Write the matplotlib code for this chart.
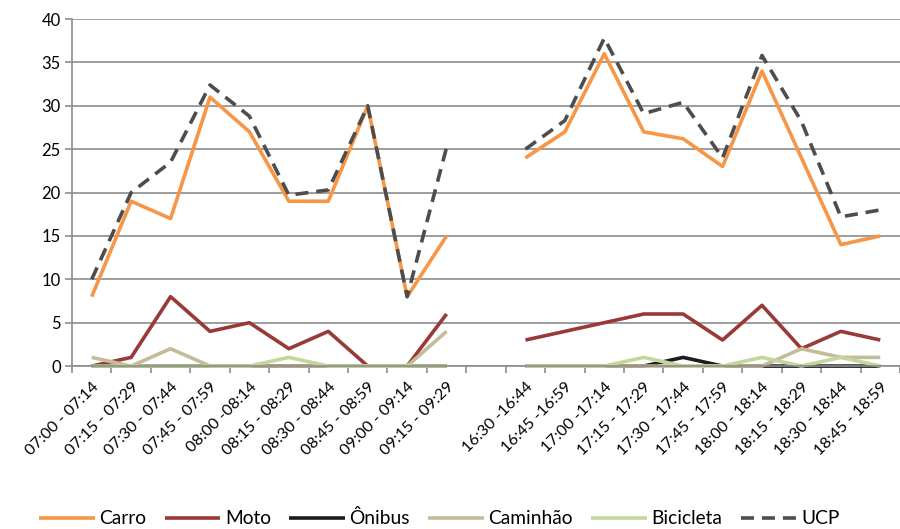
import numpy as np
import matplotlib
matplotlib.use("Agg")
import matplotlib.pyplot as plt
import matplotlib.transforms as mtransforms

plt.rcParams['font.family'] = ['Lato', 'DejaVu Sans']

# faixas horárias (manhã e tarde), com uma posição vazia entre elas
manha = ["07:00 - 07:14", "07:15 - 07:29", "07:30 - 07:44", "07:45 - 07:59", "08:00 -08:14",
         "08:15 - 08:29", "08:30 - 08:44", "08:45 - 08:59", "09:00 - 09:14", "09:15 - 09:29"]
tarde = ["16:30 -16:44", "16:45 -16:59", "17:00 -17:14", "17:15 - 17:29", "17:30 - 17:44",
         "17:45 - 17:59", "18:00 - 18:14", "18:15 - 18:29", "18:30 - 18:44", "18:45 - 18:59"]

carro_m = [8, 19, 17, 31, 27, 19, 19, 30, 8, 15]
carro_t = [24, 27, 36, 27, 26.2, 23, 34, 24, 14, 15]
moto_m = [0, 1, 8, 4, 5, 2, 4, 0, 0, 6]
moto_t = [3, 4, 5, 6, 6, 3, 7, 2, 4, 3]
onibus_m = [0, 0, 0, 0, 0, 0, 0, 0, 0, 0]
onibus_t = [0, 0, 0, 0, 1, 0, 0, 0, 0, 0]
caminhao_m = [1, 0, 2, 0, 0, 0, 0, 0, 0, 4]
caminhao_t = [0, 0, 0, 0, 0, 0, 0, 2, 1, 1]
bicicleta_m = [0, 0, 0, 0, 0, 1, 0, 0, 0, 0]
bicicleta_t = [0, 0, 0, 1, 0, 0, 1, 0, 1, 0]
ucp_m = [10, 20, 23.5, 32.4, 28.8, 19.7, 20.3, 30, 8, 25.2]
ucp_t = [25, 28.3, 37.8, 29.1, 30.4, 24, 35.8, 28.2, 17.2, 18]

labels = manha + [""] + tarde
x = np.arange(len(labels))

def junta(a, b):
    return np.array(a + [np.nan] + b, dtype=float)

series = [
    ("Carro", junta(carro_m, carro_t), "#F79646", "-"),
    ("Moto", junta(moto_m, moto_t), "#993A37", "-"),
    ("Ônibus", junta(onibus_m, onibus_t), "#1C1C1C", "-"),
    ("Caminhão", junta(caminhao_m, caminhao_t), "#C4BC97", "-"),
    ("Bicicleta", junta(bicicleta_m, bicicleta_t), "#C3D69B", "-"),
    ("UCP", junta(ucp_m, ucp_t), "#4D4D4D", (0, (3.6, 2.2))),
]

fig = plt.figure(figsize=(9, 5.29), dpi=100)
ax = fig.add_axes([0.08, 0.308, 0.92, 0.656])

for nome, y, cor, ls in series:
    ax.plot(x, y, color=cor, lw=2.6, ls=ls, label=nome, solid_capstyle='butt',
            dash_capstyle='butt', clip_on=False)

ax.set_ylim(0, 40)
ax.set_yticks(np.arange(0, 41, 5))
ax.set_xlim(-0.475, 20.225)
ax.grid(axis='y', color='#8C8C8C', lw=1.2)
ax.set_axisbelow(True)

ax.set_xticks(x)
ax.set_xticklabels(labels, rotation=45, ha='right', va='top', rotation_mode='anchor', fontsize=11.5)
desloca = mtransforms.ScaledTranslation(6 / 72, 0, fig.dpi_scale_trans)
for t in ax.get_xticklabels():
    t.set_transform(t.get_transform() + desloca)
ax.set_xticks(np.arange(-0.5, 21, 1), minor=True)
ax.tick_params(axis='x', which='major', length=0, pad=10)
ax.tick_params(axis='x', which='minor', length=5, color='#8C8C8C', width=1.2)
ax.tick_params(axis='y', length=5, color='#8C8C8C', width=1.2, labelsize=12, pad=3)

for s in ['top', 'right']:
    ax.spines[s].set_visible(False)
for s in ['left', 'bottom']:
    ax.spines[s].set_color('#8C8C8C')
    ax.spines[s].set_linewidth(1.2)

fig.legend(loc='center', bbox_to_anchor=(0.488, 0.02), ncol=6, frameon=False, fontsize=13.8,
           handlelength=2.9, columnspacing=0.95, handletextpad=0.25)

fig.savefig("out.png", dpi=100)
